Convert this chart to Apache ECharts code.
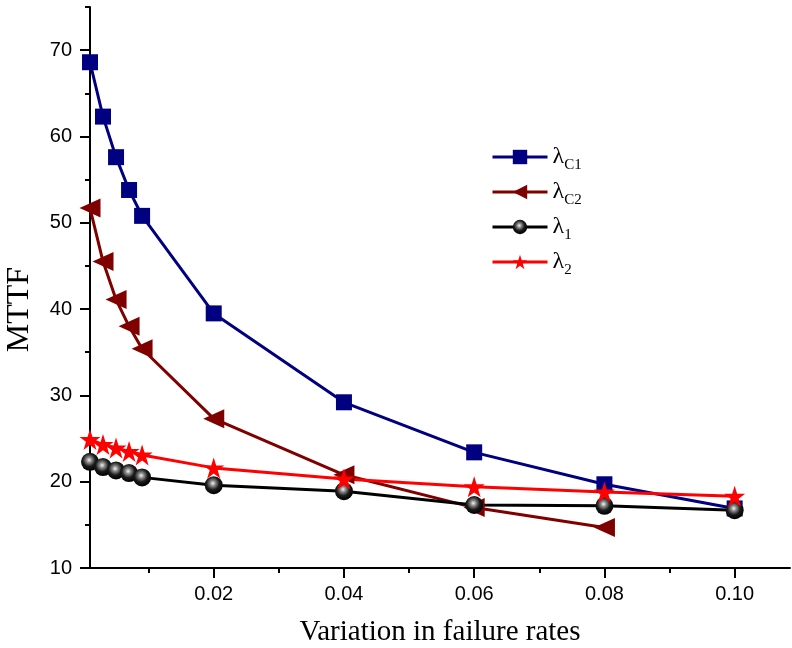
<!DOCTYPE html>
<html lang="en">
<head>
<meta charset="UTF-8">
<title>MTTF</title>
<style>
  html, body { margin: 0; padding: 0; background: #fff; }
  #chart { width: 792px; height: 648px; }
</style>
</head>
<body>
<div id="chart"></div>
<script src="https://cdn.jsdelivr.net/npm/echarts@6/dist/echarts.min.js"></script>
<script>
// failure rate variation (x values)
var rates = [0.001, 0.003, 0.005, 0.007, 0.009, 0.02, 0.04, 0.06, 0.08, 0.10];

// MTTF values
var lamC1 = [68.6, 62.3, 57.6, 53.8, 50.8, 39.5, 29.2, 23.4, 19.7, 16.9];
var lamC2 = [51.7, 45.5, 41.1, 38.0, 35.4, 27.3, 20.8, 17.0, 14.7];
var lam1  = [22.3, 21.7, 21.3, 21.0, 20.5, 19.6, 18.9, 17.3, 17.2, 16.7];
var lam2  = [24.9, 24.3, 23.9, 23.5, 23.1, 21.6, 20.3, 19.4, 18.8, 18.3];

var xMajor = [0.02, 0.04, 0.06, 0.08, 0.10];
var xMinor = [0.01, 0.03, 0.05, 0.07, 0.09];
var yMajor = [10, 20, 30, 40, 50, 60, 70];
var yMinor = [15, 25, 35, 45, 55, 65, 75];

var legendText = {
  'λC1': '{l|λ}{s|C1}',
  'λC2': '{l|λ}{s|C2}',
  'λ1': '{l|λ}{s|1}',
  'λ2': '{l|λ}{s|2}'
};

function pairs(ys) {
  return ys.map(function (v, i) { return [rates[i], v]; });
}

var starPath = 'path://M50,0 L61.8,36.2 L100,36.2 L69.1,58.6 L80.9,95 L50,72.6 L19.1,95 L30.9,58.6 L0,36.2 L38.2,36.2 Z';

var ball = new echarts.graphic.RadialGradient(0.45, 0.4, 0.6, [
  { offset: 0, color: '#f4f4f4' },
  { offset: 0.25, color: '#8a8a8a' },
  { offset: 0.6, color: '#1a1a1a' },
  { offset: 1, color: '#000' }
]);

var xmin = 0.001, xmax = 0.1085;

var option = {
  backgroundColor: '#fff',
  animation: false,
  grid: { left: 90, right: 2, top: 7, bottom: 80, containLabel: false, outerBoundsMode: 'none' },
  legend: {
    orient: 'vertical',
    left: 486,
    top: 140,
    itemWidth: 55,
    itemHeight: 18,
    itemGap: 7,
    lineStyle: { width: 3 },
    formatter: function (name) { return legendText[name]; },
    textStyle: {
      rich: {
        l: { fontFamily: 'Liberation Serif', fontSize: 24, color: '#000', lineHeight: 26 },
        s: { fontFamily: 'Liberation Serif', fontSize: 15, color: '#000', padding: [17, 0, 0, 0] }
      }
    },
    data: ['λC1', 'λC2', 'λ1', 'λ2']
  },
  xAxis: [{
    type: 'value',
    min: xmin,
    max: xmax,
    name: 'Variation in failure rates',
    nameLocation: 'middle',
    nameGap: 50,
    nameTextStyle: { fontFamily: 'Liberation Serif', fontSize: 29, color: '#000' },
    axisLine: { show: true, lineStyle: { color: '#000', width: 2 } },
    axisTick: { show: true, length: 10, lineStyle: { color: '#000', width: 2 }, customValues: xMajor },
    axisLabel: {
      customValues: xMajor,
      margin: 16,
      fontFamily: 'Liberation Sans',
      fontSize: 20,
      color: '#000',
      formatter: function (v) { return v.toFixed(2); }
    },
    splitLine: { show: false }
  }, {
    type: 'value',
    min: xmin,
    max: xmax,
    position: 'bottom',
    axisLine: { show: false },
    axisTick: { show: true, length: 5, lineStyle: { color: '#000', width: 2 }, customValues: xMinor },
    axisLabel: { show: false },
    splitLine: { show: false }
  }],
  yAxis: [{
    type: 'value',
    min: 10,
    max: 75,
    name: 'MTTF',
    nameLocation: 'middle',
    nameGap: 54,
    nameTextStyle: { fontFamily: 'Liberation Serif', fontSize: 32, color: '#000', padding: [0, 44, 0, 0] },
    axisLine: { show: true, lineStyle: { color: '#000', width: 2 } },
    axisTick: { show: true, length: 10, lineStyle: { color: '#000', width: 2 }, customValues: yMajor },
    axisLabel: { customValues: yMajor, margin: 18, fontFamily: 'Liberation Sans', fontSize: 20, color: '#000' },
    splitLine: { show: false }
  }, {
    type: 'value',
    min: 10,
    max: 75,
    position: 'left',
    axisLine: { show: false },
    axisTick: { show: true, length: 5, lineStyle: { color: '#000', width: 2 }, customValues: yMinor },
    axisLabel: { show: false },
    splitLine: { show: false }
  }],
  series: [{
    name: 'λC1',
    type: 'line',
    data: pairs(lamC1),
    symbol: 'rect',
    symbolSize: 16,
    color: '#000080',
    lineStyle: { width: 3, color: '#000080' },
    itemStyle: { color: '#000080' }
  }, {
    name: 'λC2',
    type: 'line',
    data: pairs(lamC2),
    symbol: 'triangle',
    symbolRotate: 90,
    symbolSize: [19, 21],
    color: '#800000',
    lineStyle: { width: 3, color: '#800000' },
    itemStyle: { color: '#800000' }
  }, {
    name: 'λ1',
    type: 'line',
    data: pairs(lam1),
    symbol: 'circle',
    symbolSize: 18,
    color: '#000',
    lineStyle: { width: 3, color: '#000' },
    itemStyle: { color: ball }
  }, {
    name: 'λ2',
    type: 'line',
    data: pairs(lam2),
    symbol: starPath,
    symbolSize: 21,
    color: '#ff0000',
    lineStyle: { width: 3, color: '#ff0000' },
    itemStyle: { color: '#ff0000' }
  }]
};

var myChart = echarts.init(document.getElementById('chart'));
myChart.setOption(option);
</script>
</body>
</html>
